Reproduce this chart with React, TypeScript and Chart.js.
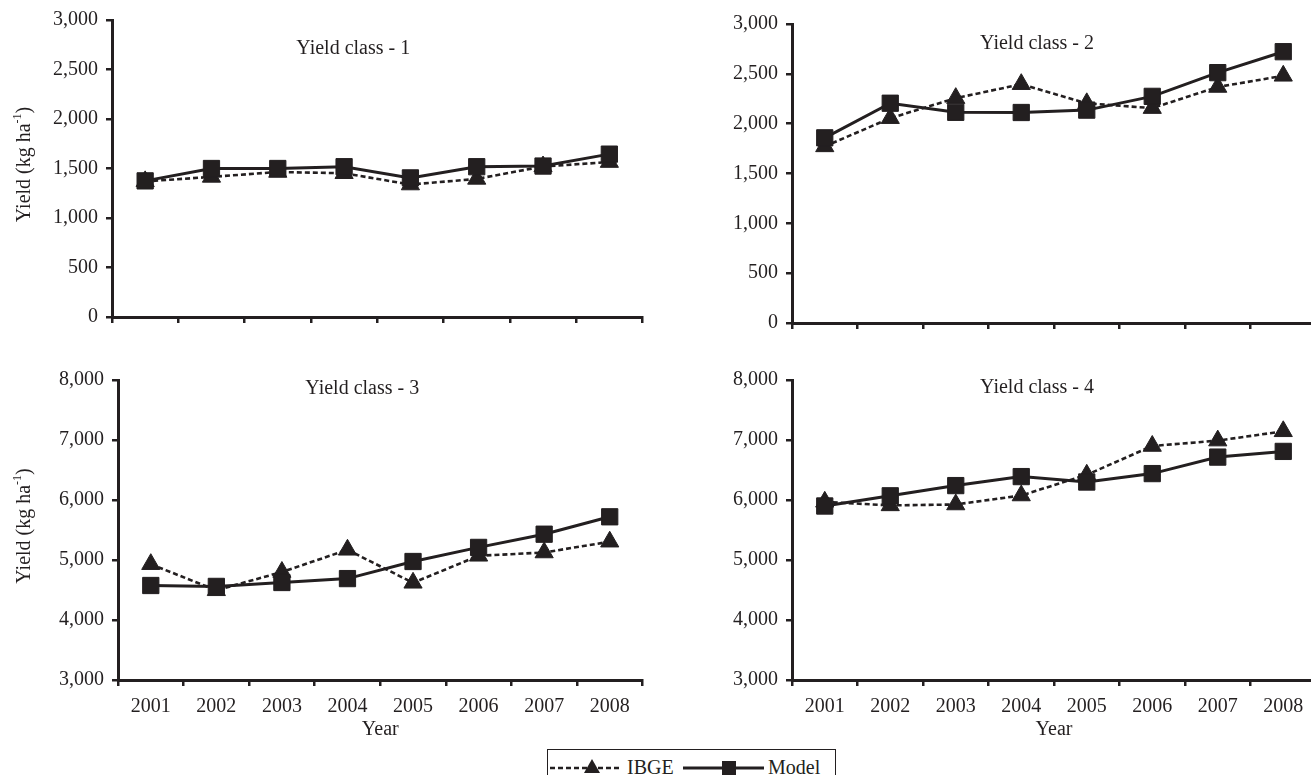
import React, { useEffect, useRef } from 'react';
import { Chart, registerables } from 'chart.js';

Chart.register(...registerables);

const INK = '#231f20';
const FONT = '"Liberation Serif", "Times New Roman", Times, serif';

const years = ['2001', '2002', '2003', '2004', '2005', '2006', '2007', '2008'];

const ibgeClass1 = [1370, 1415, 1465, 1452, 1338, 1395, 1520, 1565];
const modelClass1 = [1375, 1500, 1500, 1518, 1405, 1518, 1525, 1645];
const ibgeClass2 = [1772, 2055, 2256, 2396, 2204, 2156, 2368, 2480];
const modelClass2 = [1858, 2205, 2114, 2112, 2136, 2274, 2512, 2722];
const ibgeClass3 = [4930, 4495, 4800, 5170, 4620, 5070, 5125, 5305];
const modelClass3 = [4575, 4560, 4625, 4690, 4975, 5210, 5430, 5720];
const ibgeClass4 = [5970, 5910, 5925, 6075, 6420, 6900, 6990, 7145];
const modelClass4 = [5900, 6070, 6240, 6390, 6300, 6440, 6715, 6810];

const ibgeSeries = [ibgeClass1, ibgeClass2, ibgeClass3, ibgeClass4];
const modelSeries = [modelClass1, modelClass2, modelClass3, modelClass4];

const panelTitles = ['Yield class - 1', 'Yield class - 2', 'Yield class - 3', 'Yield class - 4'];
const yMin = [0, 0, 3000, 3000];
const yMax = [3000, 3000, 8000, 8000];
const yStep = [500, 500, 1000, 1000];
const seriesNames = ['IBGE', 'Model'];
const xAxisTitle = 'Year';
const yAxisTitleMain = 'Yield (kg ha';
const yAxisTitleSup = '-1';
const yAxisTitleEnd = ')';

type PanelLayout = {
  left: number; top: number; width: number; height: number;
  yAxisW: number; xAxisH: number; padTop: number; padRight: number; padBottom: number;
  titleDx: number; titleDy: number; showX: boolean; showYTitle: boolean;
};

const layouts: PanelLayout[] = [
  { left: 0, top: 0, width: 655, height: 340, yAxisW: 112, xAxisH: 23, padTop: 18, padRight: 12, padBottom: 0, titleDx: -24, titleDy: 29, showX: false, showYTitle: true },
  { left: 655, top: 0, width: 675, height: 345, yAxisW: 137, xAxisH: 22, padTop: 24, padRight: 14, padBottom: 0, titleDx: -17, titleDy: 20, showX: false, showYTitle: false },
  { left: 0, top: 345, width: 655, height: 400, yAxisW: 118, xAxisH: 62, padTop: 35, padRight: 10, padBottom: 3, titleDx: -18, titleDy: 9, showX: true, showYTitle: true },
  { left: 655, top: 345, width: 675, height: 400, yAxisW: 137, xAxisH: 62, padTop: 35, padRight: 14, padBottom: 3, titleDx: -17, titleDy: 8, showX: true, showYTitle: false },
];

const decorPlugin = {
  id: 'panelDecor',
  afterDraw(chart: any, _args: any, opts: any) {
    const { ctx, chartArea } = chart;
    ctx.save();
    ctx.fillStyle = INK;
    ctx.font = `20px ${FONT}`;
    ctx.textAlign = 'center';
    ctx.textBaseline = 'middle';
    const cx = (chartArea.left + chartArea.right) / 2 + opts.titleDx;
    ctx.fillText(opts.title, cx, chartArea.top + opts.titleDy);
    if (opts.showYTitle) {
      const cy = (chartArea.top + chartArea.bottom) / 2 - 4;
      ctx.translate(25, cy);
      ctx.rotate(-Math.PI / 2);
      ctx.textAlign = 'left';
      const mainFont = `20px ${FONT}`;
      const supFont = `12px ${FONT}`;
      ctx.font = mainFont;
      const w1 = ctx.measureText(yAxisTitleMain).width;
      const w3 = ctx.measureText(yAxisTitleEnd).width;
      ctx.font = supFont;
      const w2 = ctx.measureText(yAxisTitleSup).width;
      let x = -(w1 + w2 + w3) / 2;
      ctx.font = mainFont;
      ctx.fillText(yAxisTitleMain, x, 0);
      x += w1;
      ctx.font = supFont;
      ctx.fillText(yAxisTitleSup, x, -7);
      x += w2;
      ctx.font = mainFont;
      ctx.fillText(yAxisTitleEnd, x, 0);
    }
    ctx.restore();
  },
};

function Panel({ index }: { index: number }) {
  const ref = useRef<HTMLCanvasElement>(null);
  const L = layouts[index];
  useEffect(() => {
    if (!ref.current) return;
    const chart = new Chart(ref.current, {
      type: 'line',
      data: {
        labels: years,
        datasets: [
          {
            label: seriesNames[0],
            data: ibgeSeries[index],
            borderColor: INK,
            backgroundColor: INK,
            borderWidth: 2.6,
            borderDash: [5, 3],
            pointStyle: 'triangle',
            pointRadius: 10.5,
            pointBorderWidth: 1,
            pointBackgroundColor: INK,
            pointBorderColor: INK,
            tension: 0,
            order: 1,
          },
          {
            label: seriesNames[1],
            data: modelSeries[index],
            borderColor: INK,
            backgroundColor: INK,
            borderWidth: 3,
            pointStyle: 'rect',
            pointRadius: 11.5,
            pointBorderWidth: 1,
            pointBackgroundColor: INK,
            pointBorderColor: INK,
            tension: 0,
            order: 0,
          },
        ],
      },
      options: {
        responsive: false,
        animation: false,
        events: [],
        layout: { padding: { top: L.padTop, right: L.padRight, bottom: L.padBottom, left: 0 } },
        plugins: {
          legend: { display: false },
          tooltip: { enabled: false },
          title: { display: false },
          panelDecor: {
            title: panelTitles[index],
            titleDx: L.titleDx,
            titleDy: L.titleDy,
            showYTitle: L.showYTitle,
          },
        } as any,
        scales: {
          x: {
            type: 'category',
            offset: true,
            grid: {
              offset: true,
              drawOnChartArea: false,
              drawTicks: true,
              tickLength: 6,
              color: INK,
              lineWidth: 2.5,
            },
            border: { display: true, color: INK, width: 3 },
            ticks: {
              display: L.showX,
              color: INK,
              font: { family: FONT, size: 20 },
              padding: 9,
              autoSkip: false,
              maxRotation: 0,
            },
            title: {
              display: L.showX,
              text: xAxisTitle,
              color: INK,
              font: { family: FONT, size: 20 },
              padding: { top: 0, bottom: 0 },
            },
            afterFit: (s: any) => { s.height = L.xAxisH; },
          },
          y: {
            min: yMin[index],
            max: yMax[index],
            grid: {
              drawOnChartArea: false,
              drawTicks: true,
              tickLength: 6,
              color: INK,
              lineWidth: 2.5,
            },
            border: { display: true, color: INK, width: 3 },
            ticks: {
              stepSize: yStep[index],
              color: INK,
              font: { family: FONT, size: 20 },
              padding: 8,
              callback: (v: any) => Number(v).toLocaleString('en-US'),
            },
            afterFit: (s: any) => { s.width = L.yAxisW; },
          },
        },
      },
      plugins: [decorPlugin],
    });
    return () => chart.destroy();
  }, [index]);
  return (
    <canvas
      ref={ref}
      width={L.width}
      height={L.height}
      style={{ position: 'absolute', left: L.left, top: L.top, width: L.width, height: L.height, display: 'block' }}
    />
  );
}

function Legend() {
  const textStyle: React.CSSProperties = {
    position: 'absolute', top: 5, fontFamily: FONT, fontSize: 20, lineHeight: '24px', color: INK, whiteSpace: 'nowrap',
  };
  return (
    <div style={{ position: 'absolute', left: 547, top: 749, width: 287, height: 40, border: `1px solid ${INK}`, background: '#fff' }}>
      <svg style={{ position: 'absolute', left: 2, top: 7 }} width={72} height={20}>
        <line x1={0} y1={11} x2={72} y2={11} stroke={INK} strokeWidth={2.5} strokeDasharray="5 3" />
        <polygon points="42,2 50,16 34,16" fill={INK} />
      </svg>
      <span style={{ ...textStyle, left: 79 }}>{seriesNames[0]}</span>
      <svg style={{ position: 'absolute', left: 135, top: 7 }} width={81} height={20}>
        <line x1={0} y1={11} x2={81} y2={11} stroke={INK} strokeWidth={2.8} />
        <rect x={39} y={4} width={14} height={14} fill={INK} />
      </svg>
      <span style={{ ...textStyle, left: 220 }}>{seriesNames[1]}</span>
    </div>
  );
}

export default function App() {
  return (
    <div style={{ position: 'fixed', left: 0, top: 0, width: 1311, height: 775, overflow: 'hidden', background: '#fff' }}>
      {[0, 1, 2, 3].map((i) => <Panel key={i} index={i} />)}
      <Legend />
    </div>
  );
}
